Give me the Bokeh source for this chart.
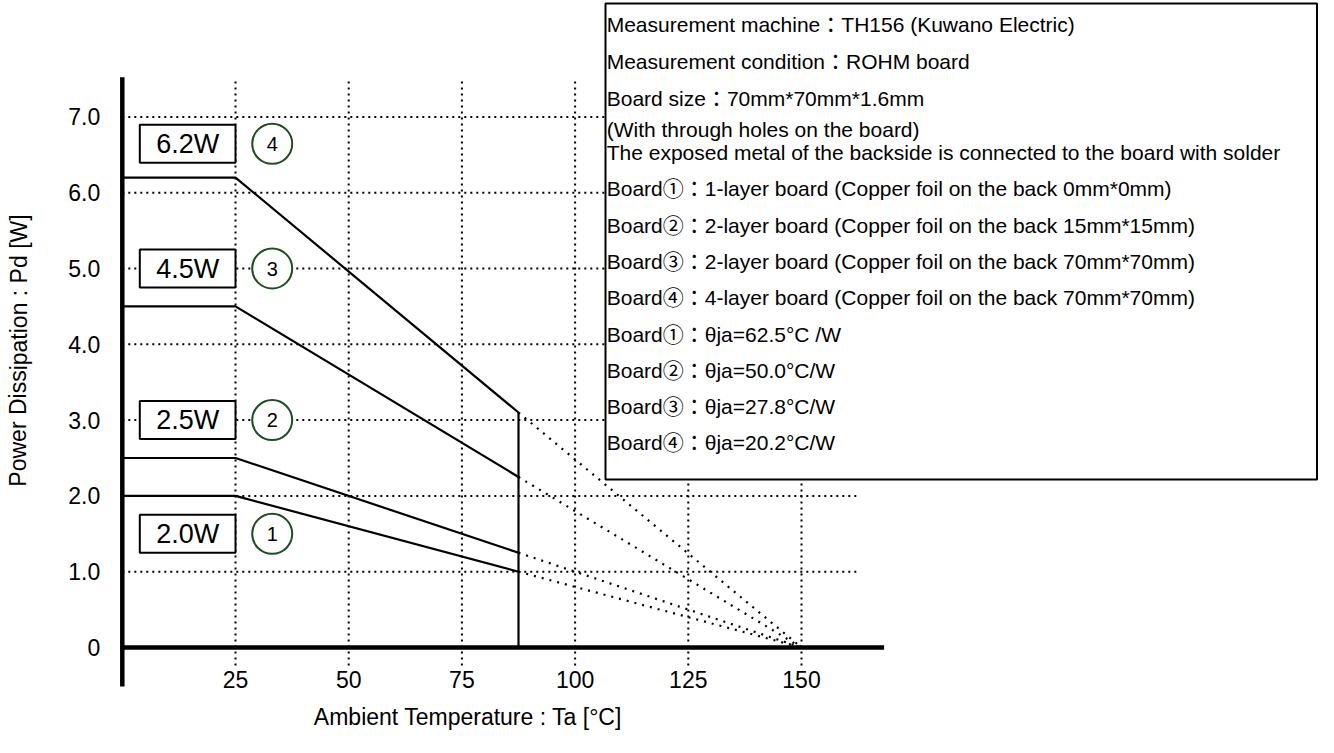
from bokeh.plotting import figure
from bokeh.models import Range1d, FixedTicker
from bokeh.embed import file_html
from bokeh.resources import INLINE
from bokeh.core.properties import value

# ---------------- data ----------------
board_ids = ["1", "2", "3", "4"]
pd_rated = [2.0, 2.5, 4.5, 6.2]        # Pd [W] up to Ta = 25 °C
pd_at_cut = [1.0, 1.25, 2.25, 3.1]     # Pd [W] at Ta = 87.5 °C
ta_knee = 25.0
ta_cut = 87.5
ta_max = 150.0
rated_labels = ["2.0W", "2.5W", "4.5W", "6.2W"]
x_ticks = [25, 50, 75, 100, 125, 150]
y_ticks = [0, 1, 2, 3, 4, 5, 6, 7]
y_tick_labels = ["0", "1.0", "2.0", "3.0", "4.0", "5.0", "6.0", "7.0"]
x_title = "Ambient Temperature : Ta [°C]"
y_title = "Power Dissipation : Pd [W]"
notes = [
    "Measurement machine\uff1aTH156 (Kuwano Electric)",
    "Measurement condition\uff1aROHM board",
    "Board size\uff1a70mm*70mm*1.6mm",
    "(With through holes on the board)",
    "The exposed metal of the backside is connected to the board with solder",
    "Board\u2460\uff1a1-layer board (Copper foil on the back 0mm*0mm)",
    "Board\u2461\uff1a2-layer board (Copper foil on the back 15mm*15mm)",
    "Board\u2462\uff1a2-layer board (Copper foil on the back 70mm*70mm)",
    "Board\u2463\uff1a4-layer board (Copper foil on the back 70mm*70mm)",
    "Board\u2460\uff1a\u03b8ja=62.5°C /W",
    "Board\u2461\uff1a\u03b8ja=50.0°C/W",
    "Board\u2462\uff1a\u03b8ja=27.8°C/W",
    "Board\u2463\uff1a\u03b8ja=20.2°C/W",
]

# ---------------- layout (pixels of the figure) ----------------
W, H = 1318, 737
PX_X, PX_Y = 4.528, 75.8          # pixels per unit
X0_PX, Y0_PX = 121.8, 647.0       # position of the origin

def dx(px):
    return (px - X0_PX) / PX_X

def dy(py):
    return (Y0_PX - py) / PX_Y

FONT = "Liberation Sans, Noto Sans CJK JP"
GREEN = "#1d4f1d"

p = figure(width=W, height=H,
           x_range=Range1d(dx(0), dx(W)), y_range=Range1d(dy(H), dy(0)),
           output_backend="svg", toolbar_location=None,
           min_border=0, min_border_left=0, min_border_right=0,
           min_border_top=0, min_border_bottom=0,
           outline_line_color=None, background_fill_color="white",
           border_fill_color="white")
p.xgrid.visible = False
p.ygrid.visible = False

# axes crossing at the origin (tick labels only, lines drawn below)
p.xaxis.fixed_location = 0
p.yaxis.fixed_location = 0
p.xaxis.ticker = FixedTicker(ticks=x_ticks)
p.yaxis.ticker = FixedTicker(ticks=y_ticks)
p.yaxis.major_label_overrides = {t: l for t, l in zip(y_ticks, y_tick_labels)}
for ax in (p.xaxis, p.yaxis):
    ax.axis_line_color = None
    ax.major_tick_line_color = None
    ax.minor_tick_line_color = None
    ax.major_tick_in = 0
    ax.major_tick_out = 0
    ax.major_label_text_font = FONT
    ax.major_label_text_font_size = "23px"
    ax.major_label_text_color = "black"
p.xaxis.major_label_standoff = 23
p.yaxis.major_label_standoff = 22

# dotted grid
gx_end = 162.5
gy_lo, gy_hi = dy(665), dy(78)
hy = [t for t in y_ticks if t > 0]
p.segment(x0=[0] * len(hy), y0=hy, x1=[gx_end] * len(hy), y1=hy,
          line_color="black", line_width=2, line_dash="2 4")
p.segment(x0=x_ticks, y0=[gy_lo] * len(x_ticks), x1=x_ticks, y1=[gy_hi] * len(x_ticks),
          line_color="black", line_width=2, line_dash="2 4")

# derating curves
for pr, pc in zip(pd_rated, pd_at_cut):
    p.line([0, ta_knee, ta_cut], [pr, pr, pc], line_color="black", line_width=2.2)
    p.line([ta_cut, ta_max], [pc, 0], line_color="black", line_width=2.2, line_dash="2 6")
p.segment(x0=[ta_cut], y0=[0], x1=[ta_cut], y1=[max(pd_at_cut)],
          line_color="black", line_width=2.2)

# axis lines
p.segment(x0=[0], y0=[0], x1=[dx(883.6)], y1=[0], line_color="black", line_width=4.5)
p.segment(x0=[0], y0=[dy(686)], x1=[0], y1=[dy(76.7)], line_color="black", line_width=4.5)

# rated-power boxes and board markers
label_y = [1.5, 3.0, 5.0, 6.645]
half_h = 19 / PX_Y
box_left = dx(139.3)
p.quad(left=[box_left] * 4, right=[ta_knee] * 4,
       bottom=[y - half_h for y in label_y], top=[y + half_h for y in label_y],
       fill_color="white", line_color="black", line_width=2)
p.text(x=[(box_left + ta_knee) / 2] * 4, y=label_y, text=rated_labels,
       text_align="center", text_baseline="middle",
       text_font=value(FONT), text_font_size=value("27px"), text_color="black")
cx = dx(271.7)
p.scatter(x=[cx] * 4, y=label_y, size=40, marker="circle",
          fill_color="white", line_color=GREEN, line_width=2)
p.text(x=[cx] * 4, y=label_y, text=board_ids,
       text_align="center", text_baseline="middle",
       text_font=value(FONT), text_font_size=value("20px"), text_color="black")

# conditions box
p.quad(left=[dx(605)], right=[dx(1316.5)], top=[dy(3)], bottom=[dy(479)],
       fill_color="white", line_color="black", line_width=2)
note_py = [24, 61, 98, 129, 152, 188, 225, 261, 297, 334, 370, 406, 442]
p.text(x=[dx(606.2)] * len(notes), y=[dy(v) for v in note_py], text=notes,
       text_align="left", text_baseline="middle",
       text_font=value(FONT), text_font_size=value("21px"), text_color="black")

# axis titles
p.text(x=[dx(467.5)], y=[dy(716)], text=[x_title], text_align="center",
       text_baseline="middle", text_font=value("Liberation Sans"),
       text_font_size=value("23px"), text_color="black")
p.text(x=[dx(18)], y=[dy(350)], text=[y_title], angle=1.5707963,
       text_align="center", text_baseline="middle", text_font=value("Liberation Sans"),
       text_font_size=value("23px"), text_color="black")

open("out.html", "w").write(file_html(p, INLINE))
